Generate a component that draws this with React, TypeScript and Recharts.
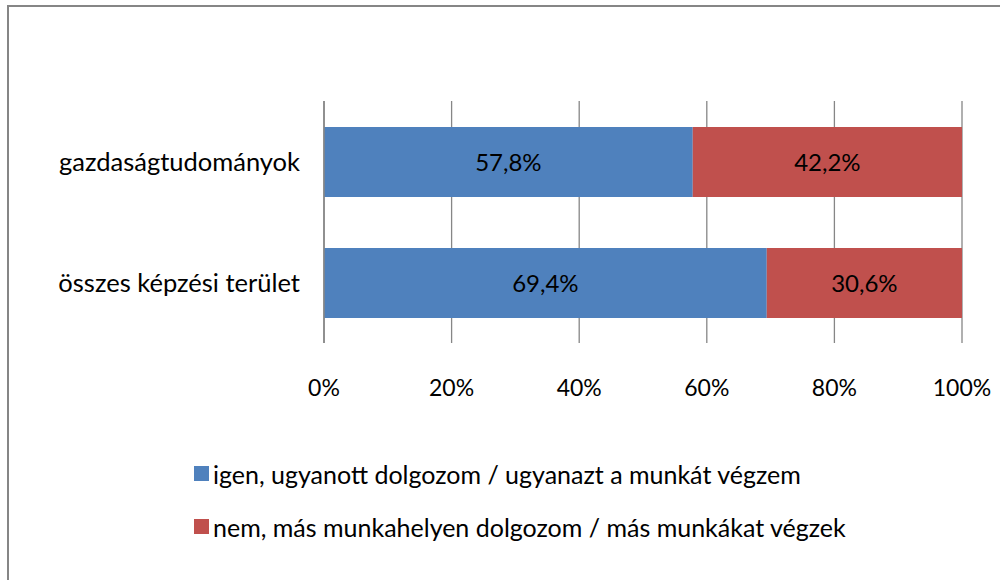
import { BarChart, Bar, XAxis, YAxis, CartesianGrid, Legend, LabelList } from 'recharts';

const categories = ['gazdaságtudományok', 'összes képzési terület'];
const igenValues = [57.8, 69.4];
const nemValues = [42.2, 30.6];
const seriesNames = [
    'igen, ugyanott dolgozom / ugyanazt a munkát végzem',
    'nem, más munkahelyen dolgozom / más munkákat végzek',
];
const seriesColors = ['#4F81BD', '#C0504D'];
const xTicks = [0, 20, 40, 60, 80, 100];

const data = categories.map((name, i) => ({ name, igen: igenValues[i], nem: nemValues[i] }));

const FONT = 'Lato, "Open Sans", sans-serif';
const GRID = '#868686';

const fmtPct = (v: number) => `${v.toFixed(1).replace('.', ',')}%`;

function LegendBox() {
    return (
        <div style={{ fontFamily: FONT, fontSize: 25, color: '#000' }}>
            {seriesNames.map((s, i) => (
                <div key={s} style={{ display: 'flex', alignItems: 'center', height: 53 }}>
                    <div style={{ width: 15, height: 15, background: seriesColors[i], marginRight: 4 }} />
                    <span>{s}</span>
                </div>
            ))}
        </div>
    );
}

export default function App() {
    return (
        <div style={{ position: 'absolute', left: 0, top: 0, width: 1000, height: 580, background: '#fff', overflow: 'hidden' }}>
            <div style={{ position: 'absolute', left: 7, top: 5, width: 1100, height: 700, borderLeft: `2px solid ${GRID}`, borderTop: `2px solid ${GRID}` }} />
            <div style={{ position: 'absolute', left: 0, top: 0 }}>
                <BarChart width={1000} height={580} data={data} layout="vertical"
                    margin={{ top: 101, right: 38, left: 0, bottom: 207 }}>
                    <CartesianGrid horizontal={false} stroke={GRID} strokeWidth={1.3} />
                    <XAxis type="number" domain={[0, 100]} ticks={xTicks} tickFormatter={(v) => `${v}%`}
                        axisLine={false} tickLine={false} tickSize={0} tickMargin={37} height={30}
                        tick={{ fontSize: 23, fill: '#000', fontFamily: FONT }} interval={0} />
                    <YAxis type="category" dataKey="name" width={324} axisLine={{ stroke: GRID, strokeWidth: 1.5 }}
                        tickLine={false} tickSize={0} tickMargin={24}
                        tick={{ fontSize: 25.5, fill: '#000', fontFamily: FONT }} />
                    <Legend layout="vertical" align="center" verticalAlign="middle" content={() => <LegendBox />}
                        wrapperStyle={{ left: 194, top: 447, width: 760 }} />
                    <Bar dataKey="igen" stackId="a" fill={seriesColors[0]} barSize={70} isAnimationActive={false}>
                        <LabelList dataKey="igen" position="center" formatter={(v: any) => fmtPct(Number(v))}
                            style={{ fontSize: 24, fill: '#000', fontFamily: FONT }} />
                    </Bar>
                    <Bar dataKey="nem" stackId="a" fill={seriesColors[1]} barSize={70} isAnimationActive={false}>
                        <LabelList dataKey="nem" position="center" formatter={(v: any) => fmtPct(Number(v))}
                            style={{ fontSize: 24, fill: '#000', fontFamily: FONT }} />
                    </Bar>
                </BarChart>
            </div>
        </div>
    );
}
